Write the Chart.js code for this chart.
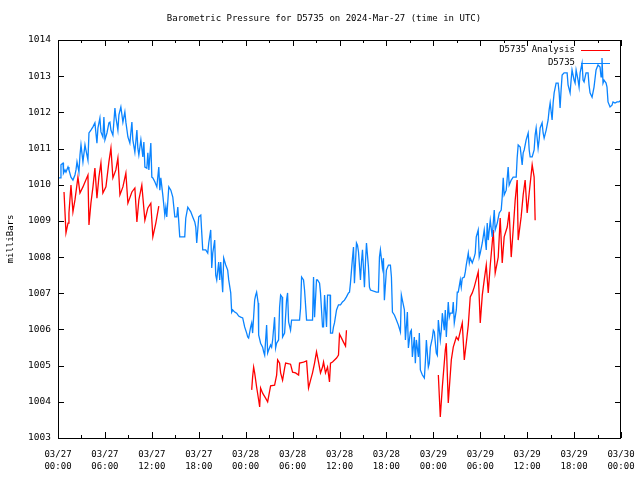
<!DOCTYPE html>
<html>
<head>
<meta charset="utf-8">
<script src="https://cdn.jsdelivr.net/npm/chart.js@4.4.1/dist/chart.umd.min.js"></script>
<style>
  html, body { margin: 0; padding: 0; background: #fff; }
</style>
</head>
<body>
<canvas id="chart" width="640" height="480"></canvas>
<script>
const chartTitle = "Barometric Pressure for D5735 on 2024-Mar-27 (time in UTC)";
const yTitle = "milliBars";

// x ticks every 6 hours from 03/27 00:00
const xTickLabels = [
  ["03/27", "00:00"], ["03/27", "06:00"], ["03/27", "12:00"], ["03/27", "18:00"],
  ["03/28", "00:00"], ["03/28", "06:00"], ["03/28", "12:00"], ["03/28", "18:00"],
  ["03/29", "00:00"], ["03/29", "06:00"], ["03/29", "12:00"], ["03/29", "18:00"],
  ["03/30", "00:00"]
];

// D5735 Analysis (hours since 03/27 00:00 UTC, mb) - null = no data
const analysisHours = [
  0.77,1.02,1.28,1.40,1.66,1.91,2.17,2.55,2.81,3.19,
  3.83,3.96,4.21,4.47,4.72,4.98,5.23,5.49,5.74,6.13,
  6.51,6.77,7.02,7.40,7.66,7.92,8.30,8.68,8.94,9.45,
  9.83,10.09,10.34,10.72,11.11,11.49,11.87,12.13,12.51,12.89,
  18,
  24.77,24.89,25.02,25.15,25.40,25.66,25.79,25.91,26.17,26.55,
  26.81,27.19,27.70,27.96,28.09,28.34,28.47,28.72,28.98,29.11,
  29.74,30.00,30.38,30.77,30.89,31.40,31.79,32.04,32.30,32.55,
  32.81,33.06,33.32,33.57,33.83,33.96,34.21,34.47,34.72,34.85,
  35.11,35.62,35.87,36.00,36.26,36.51,36.77,36.89,
  42,
  48.64,48.89,49.15,49.53,49.66,49.91,50.30,50.55,50.94,51.19,
  51.70,51.96,52.21,52.47,52.72,52.98,53.23,53.74,54.00,54.26,
  54.51,54.77,55.02,55.28,55.53,55.66,55.91,56.30,56.55,56.81,
  57.06,57.45,57.70,57.96,58.21,58.47,58.72,58.85,59.23,59.49,
  59.74,60.00,60.26,60.64,60.89,61.02
];
const analysisMb = [
  1009.80,1008.67,1008.94,1009.22,1009.99,1009.25,1009.58,1010.21,1009.77,1009.94,
  1010.27,1008.89,1009.49,1009.94,1010.46,1009.63,1010.21,1010.60,1009.77,1009.94,
  1010.63,1011.01,1010.19,1010.41,1010.74,1009.72,1009.94,1010.32,1009.49,1009.80,
  1009.91,1008.97,1009.58,1009.99,1009.02,1009.36,1009.49,1008.56,1008.94,1009.41,
  null,
  1004.33,1004.69,1004.96,1004.80,1004.41,1004.05,1003.86,1004.38,1004.24,1004.10,
  1004.00,1004.44,1004.46,1004.74,1005.16,1005.07,1004.80,1004.60,1004.93,1005.07,
  1005.04,1004.82,1004.80,1004.74,1005.07,1005.10,1005.13,1004.38,1004.60,1004.80,
  1005.07,1005.38,1005.10,1004.80,1004.96,1005.10,1004.80,1004.96,1004.55,1005.07,
  1005.10,1005.21,1005.29,1005.87,1005.76,1005.65,1005.54,1005.98,
  null,
  1004.74,1003.58,1004.41,1005.43,1005.62,1003.97,1005.16,1005.51,1005.79,1005.71,
  1006.18,1005.16,1005.62,1006.12,1006.90,1007.01,1007.17,1007.59,1006.18,1006.95,
  1007.37,1007.78,1007.01,1007.78,1008.39,1008.75,1007.56,1008.00,1009.08,1007.84,
  1008.56,1008.83,1009.25,1008.00,1008.75,1009.58,1010.13,1008.47,1009.11,1009.72,
  1010.13,1009.22,1009.77,1010.55,1010.21,1009.02
];

// D5735 station observations
const stationHours = [
  0,0.26,0.38,0.64,0.70,0.89,1.02,1.28,1.40,1.66,
  1.91,2.17,2.30,2.43,2.68,2.81,2.94,3.19,3.45,3.57,
  3.83,3.96,4.21,4.47,4.72,4.98,5.11,5.36,5.49,5.74,
  5.87,6.00,6.26,6.51,6.64,6.77,7.02,7.28,7.40,7.66,
  7.79,8.04,8.30,8.55,8.68,8.94,9.19,9.45,9.57,9.83,
  10.09,10.21,10.34,10.60,10.85,10.98,11.11,11.36,11.49,11.62,
  11.87,12.00,12.13,12.38,12.64,12.89,13.02,13.15,13.40,13.66,
  13.79,13.91,14.17,14.43,14.68,14.94,15.19,15.32,15.57,15.83,
  16.21,16.34,16.60,16.98,17.23,17.49,17.62,17.74,18.00,18.26,
  18.35,18.51,18.89,19.15,19.28,19.53,19.66,19.79,20.04,20.17,
  20.30,20.55,20.68,20.81,21.06,21.19,21.45,21.70,21.83,22.09,
  22.21,22.34,22.60,22.85,23.11,23.36,23.62,23.87,24.13,24.26,
  24.38,24.64,24.77,24.89,25.15,25.28,25.40,25.60,25.66,25.91,
  26.17,26.30,26.43,26.68,26.81,26.94,27.19,27.32,27.45,27.70,
  27.83,27.96,28.21,28.34,28.47,28.65,28.72,28.98,29.23,29.36,
  29.49,29.74,29.87,30.26,30.89,31.02,31.15,31.40,31.53,31.79,
  32.55,32.68,32.81,33.06,33.19,33.45,33.57,33.83,33.96,34.09,
  34.34,34.47,34.80,34.85,35.11,35.23,35.36,35.62,35.87,36.13,
  36.38,36.64,36.89,37.15,37.28,37.40,37.66,37.79,37.91,38.17,
  38.30,38.43,38.68,38.81,38.94,39.19,39.32,39.45,39.70,39.83,
  39.96,40.72,40.98,41.11,41.23,41.49,41.62,41.74,42.00,42.26,
  42.51,42.64,42.77,43.02,43.28,43.53,43.79,43.91,44.04,44.30,
  44.43,44.68,44.81,45.06,45.19,45.32,45.57,45.70,45.83,46.09,
  46.21,46.34,46.60,46.85,46.98,47.11,47.36,47.49,47.62,47.87,
  48.00,48.13,48.38,48.51,48.64,48.89,49.02,49.15,49.40,49.53,
  49.66,49.91,50.04,50.17,50.43,50.55,50.68,50.94,51.06,51.19,
  51.45,51.57,51.70,51.96,52.09,52.21,52.47,52.60,52.72,52.98,
  53.23,53.36,53.49,53.74,53.87,54.00,54.26,54.51,54.77,54.89,
  55.02,55.28,55.53,55.79,55.91,56.17,56.43,56.68,56.81,56.94,
  57.06,57.32,57.57,57.70,57.96,58.21,58.60,58.72,58.85,59.11,
  59.36,59.49,59.62,59.87,60.13,60.26,60.38,60.64,60.89,61.02,
  61.15,61.40,61.53,61.66,61.91,62.04,62.17,62.43,62.68,62.81,
  62.94,63.19,63.32,63.45,63.70,63.96,64.09,64.21,64.34,64.47,
  64.72,65.11,65.23,65.49,65.62,65.74,66.00,66.13,66.26,66.51,
  66.64,66.77,67.02,67.15,67.28,67.53,67.79,67.91,68.04,68.30,
  68.55,68.81,69.06,69.32,69.45,69.57,69.70,69.83,70.09,70.21,
  70.34,70.60,70.85,70.98,71.23,71.49,71.74,72.00
];
const stationMb = [
  1010.19,1010.19,1010.55,1010.60,1010.32,1010.41,1010.35,1010.49,1010.41,1010.21,
  1010.13,1010.27,1010.41,1010.63,1010.35,1010.82,1011.10,1010.63,1011.10,1010.96,
  1010.68,1011.43,1011.51,1011.60,1011.71,1011.15,1011.57,1011.84,1011.46,1011.32,
  1011.87,1011.24,1011.43,1011.71,1011.73,1011.51,1011.37,1012.12,1011.87,1011.51,
  1011.93,1012.15,1011.73,1012.01,1011.73,1011.32,1011.15,1011.73,1011.24,1010.90,
  1011.51,1011.01,1010.82,1011.24,1010.77,1011.18,1010.49,1010.46,1010.88,1010.41,
  1011.15,1010.21,1010.19,1010.08,1009.94,1010.49,1009.85,1010.19,1009.72,1009.16,
  1009.38,1009.11,1009.94,1009.85,1009.66,1009.11,1009.11,1009.38,1008.56,1008.56,
  1008.56,1009.08,1009.38,1009.25,1009.11,1008.97,1008.83,1008.39,1009.11,1009.16,
  1008.80,1008.20,1008.20,1008.11,1008.39,1008.75,1007.70,1008.11,1008.47,1007.50,
  1007.37,1007.86,1007.37,1007.86,1007.03,1007.97,1007.78,1007.64,1007.37,1007.01,
  1006.48,1006.54,1006.48,1006.45,1006.37,1006.34,1006.32,1006.07,1005.90,1005.79,
  1005.76,1006.07,1006.18,1005.90,1006.81,1006.95,1007.03,1006.73,1005.85,1005.62,
  1005.51,1005.38,1005.29,1006.12,1005.35,1005.43,1005.57,1005.51,1005.71,1006.34,
  1005.49,1005.62,1005.71,1006.62,1006.95,1006.90,1005.79,1005.90,1006.81,1007.01,
  1006.21,1005.98,1006.26,1006.26,1006.26,1006.59,1007.45,1007.37,1007.09,1006.26,
  1006.26,1007.45,1006.34,1007.37,1007.37,1007.28,1007.01,1006.07,1006.07,1006.95,
  1006.07,1006.95,1006.95,1005.90,1005.90,1006.07,1006.18,1006.54,1006.68,1006.68,
  1006.76,1006.81,1006.90,1007.01,1007.03,1007.28,1007.97,1008.28,1007.28,1008.39,
  1008.33,1008.14,1007.37,1007.86,1008.20,1007.17,1007.86,1008.39,1007.73,1007.17,
  1007.09,1007.03,1007.03,1008.00,1008.20,1007.70,1007.97,1006.81,1007.64,1007.78,
  1007.78,1007.45,1006.48,1006.40,1006.26,1006.12,1005.93,1006.95,1006.81,1006.54,
  1005.71,1006.48,1005.49,1005.93,1005.98,1005.24,1005.79,1005.07,1005.71,1005.24,
  1005.90,1004.88,1004.74,1004.66,1005.10,1005.71,1004.96,1005.07,1005.51,1005.76,
  1005.98,1005.93,1005.35,1005.29,1006.26,1005.71,1005.98,1006.45,1005.98,1006.54,
  1005.79,1006.76,1006.34,1006.45,1006.45,1006.76,1006.18,1006.54,1007.03,1007.03,
  1007.37,1007.17,1007.42,1007.45,1007.59,1007.78,1008.11,1007.84,1007.97,1007.84,
  1008.00,1008.11,1008.56,1008.75,1008.00,1008.11,1008.39,1008.75,1008.20,1008.94,
  1008.47,1009.02,1008.56,1009.30,1008.75,1008.94,1009.22,1009.30,1009.66,1010.19,
  1009.72,1009.85,1010.49,1009.99,1010.13,1010.21,1010.21,1010.74,1011.10,1011.04,
  1010.55,1010.88,1010.96,1011.24,1011.43,1010.96,1010.77,1010.77,1010.96,1011.37,
  1011.57,1011.01,1011.24,1011.57,1011.71,1011.43,1011.29,1011.51,1011.79,1012.07,
  1012.26,1011.79,1012.26,1012.54,1012.81,1012.81,1012.54,1012.12,1012.62,1013.03,
  1013.09,1013.09,1012.76,1012.54,1012.89,1013.17,1012.89,1012.81,1013.17,1012.89,
  1012.70,1013.09,1013.36,1012.89,1012.84,1013.09,1013.09,1012.76,1012.54,1012.42,
  1012.70,1013.17,1013.31,1013.25,1012.98,1013.50,1012.81,1012.89,1012.81,1012.70,
  1012.29,1012.15,1012.20,1012.29,1012.26,1012.29,1012.29,1012.34
];

const FONT = "'DejaVu Sans Mono', monospace";
Chart.defaults.font.family = FONT;
Chart.defaults.font.size = 9;
Chart.defaults.color = '#000';

function toPoints(hours, mb) {
  return hours.map((h, i) => ({ x: h, y: mb[i] }));
}

// border, inward ticks (mirrored), title and key, gnuplot style
const gnuplotFrame = {
  id: 'gnuplotFrame',
  afterDraw(chart) {
    const { ctx, chartArea: a, scales: { x, y } } = chart;
    ctx.save();
    ctx.strokeStyle = '#000';
    ctx.lineWidth = 1;
    ctx.strokeRect(a.left + 0.5, a.top + 0.5, a.right - a.left - 1, a.bottom - a.top);
    ctx.beginPath();
    y.ticks.forEach(t => {
      const py = Math.round(y.getPixelForValue(t.value)) + 0.5;
      ctx.moveTo(a.left, py); ctx.lineTo(a.left + 6, py);
      ctx.moveTo(a.right, py); ctx.lineTo(a.right - 6, py);
    });
    for (let h = x.min; h <= x.max; h += 3) {
      const len = h % 6 === 0 ? 6 : 3;
      const px = Math.round(x.getPixelForValue(h)) + 0.5;
      ctx.moveTo(px, a.bottom); ctx.lineTo(px, a.bottom - len);
      ctx.moveTo(px, a.top); ctx.lineTo(px, a.top + len);
    }
    ctx.stroke();

    ctx.fillStyle = '#000';
    ctx.font = '9px ' + FONT;
    ctx.textBaseline = 'middle';
    ctx.textAlign = 'center';
    ctx.fillText(chartTitle, 324, 19);

    // key, top right inside the plot
    ctx.textAlign = 'right';
    chart.data.datasets.forEach((ds, i) => {
      const ky = 50 + i * 12.5;
      ctx.fillStyle = '#000';
      ctx.fillText(ds.label, 575, ky);
      ctx.strokeStyle = ds.borderColor;
      ctx.beginPath();
      ctx.moveTo(581, Math.round(ky) + 0.5);
      ctx.lineTo(610, Math.round(ky) + 0.5);
      ctx.stroke();
    });
    ctx.restore();
  }
};

new Chart(document.getElementById('chart'), {
  type: 'line',
  data: {
    datasets: [
      {
        label: 'D5735 Analysis',
        data: toPoints(analysisHours, analysisMb),
        borderColor: '#ff0000',
        borderWidth: 1.3,
        pointRadius: 0,
        spanGaps: false,
        order: 1
      },
      {
        label: 'D5735',
        data: toPoints(stationHours, stationMb),
        borderColor: '#0a84ff',
        borderWidth: 1.3,
        pointRadius: 0,
        order: 0
      }
    ]
  },
  options: {
    responsive: false,
    animation: false,
    devicePixelRatio: 1,
    layout: { padding: { top: 40, right: 19, bottom: 0, left: 0 } },
    plugins: {
      legend: { display: false },
      title: { display: false },
      tooltip: { enabled: false }
    },
    scales: {
      x: {
        type: 'linear',
        min: 0,
        max: 72,
        grid: { display: false, drawTicks: false },
        border: { display: false },
        ticks: {
          stepSize: 6,
          autoSkip: false,
          maxRotation: 0,
          padding: 10,
          font: { size: 9, lineHeight: 1.4 },
          callback: (v) => xTickLabels[Math.round(v / 6)]
        },
        afterFit(s) {
          s.height = 42;
          s.paddingLeft = 0;
          s.paddingRight = 0;
        }
      },
      y: {
        min: 1003,
        max: 1014,
        grid: { display: false, drawTicks: false },
        border: { display: false },
        ticks: {
          stepSize: 1,
          padding: 7,
          font: { size: 9.5 },
          callback: (v) => String(v)
        },
        title: {
          display: true,
          text: yTitle,
          padding: { top: 5, bottom: 0 },
          font: { size: 9 }
        },
        afterFit(s) {
          s.width = 58;
          s.paddingTop = 0;
          s.paddingBottom = 0;
        }
      }
    }
  },
  plugins: [gnuplotFrame]
});
</script>
</body>
</html>
